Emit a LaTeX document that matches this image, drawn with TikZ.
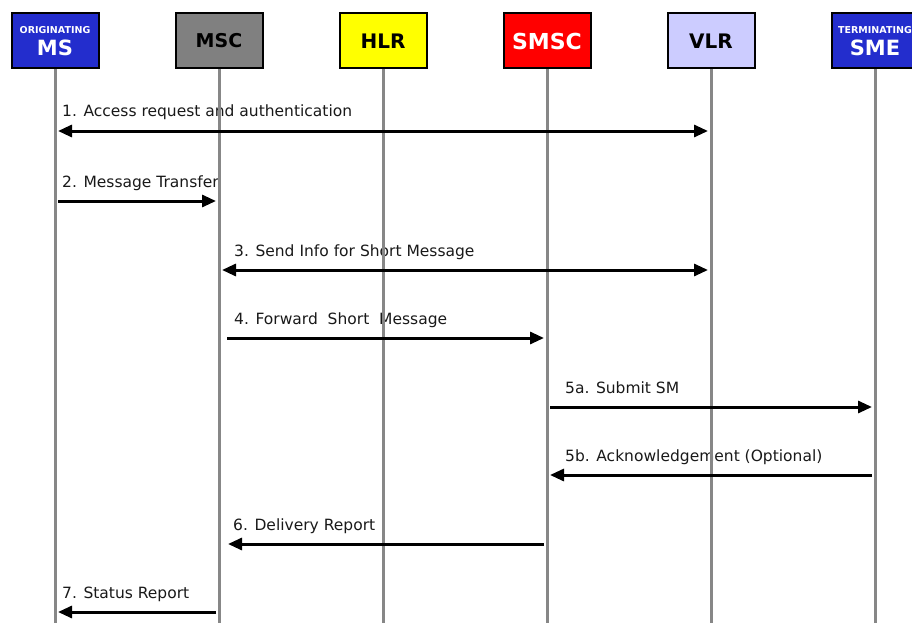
\documentclass[tikz,border=0pt]{standalone}
\usepackage{fontspec}
\setmainfont{DejaVu Sans}
\usetikzlibrary{arrows.meta,positioning}
\definecolor{msblue}{RGB}{35,45,205}
\definecolor{mscgray}{RGB}{128,128,128}
\definecolor{hlryellow}{RGB}{255,255,0}
\definecolor{smscred}{RGB}{255,0,0}
\definecolor{vlrlilac}{RGB}{204,204,255}
\definecolor{lifegray}{RGB}{135,135,135}
\definecolor{lblgray}{RGB}{25,25,25}

\begin{document}
\begin{tikzpicture}[x=1pt,y=-1pt]
\tikzstyle{box}=[rectangle,draw=black,line width=2pt,node distance=164pt,
minimum width=87pt,minimum height=55pt,inner sep=0pt,
font=\bfseries\fontsize{19}{19}\selectfont]
\tikzstyle{life}=[draw=lifegray,line width=3pt]
\tikzstyle{msg}=[line width=3pt,shorten >=3pt,shorten <=3pt]
\tikzstyle{lbl}=[anchor=base west,inner sep=0pt,text=lblgray,
font=\fontsize{15.5}{18}\selectfont]
\tikzset{>={Triangle[length=14pt,width=12pt]}}

\useasboundingbox (0,0) rectangle (912,623);

\node[box,fill=msblue,text=white,align=center] at (55,41) (ms) {{\fontsize{9.5}{9}\selectfont ORIGINATING}\\[3pt]{\fontsize{21}{21}\selectfont MS}};
\node[box,fill=mscgray,right of =ms] (msc) {MSC};
\node[box,fill=hlryellow,right of =msc] (hlr) {\fontsize{20}{20}\selectfont HLR};
\node[box,fill=smscred,text=white,right of =hlr] (smsc) {\fontsize{22}{22}\selectfont SMSC};
\node[box,fill=vlrlilac,right of =smsc] (vlr) {\fontsize{20}{20}\selectfont VLR};
\node[box,fill=msblue,text=white,align=center,right of =vlr] (sme) {{\fontsize{9.5}{9}\selectfont TERMINATING}\\[3pt]{\fontsize{21}{21}\selectfont SME}};

\coordinate (bottom) at (0,623);
\foreach \y [count=\i] in {131,201,270,338,407,475,544,612}
  \coordinate (r\i) at (0,\y);

\node[lbl] (l1) at ([xshift=7pt,yshift=14pt]ms |- r1) {1. Access request and authentication};
\node[lbl] (l2) at ([xshift=7pt,yshift=14pt]ms |- r2) {2. Message Transfer};
\node[lbl] (l3) at ([xshift=15pt,yshift=14pt]msc |- r3) {3. Send Info for Short Message};
\node[lbl] (l4) at ([xshift=15pt,yshift=14pt]msc |- r4) {4. Forward\ \ Short\ \ Message};
\node[lbl] (l5a) at ([xshift=18pt,yshift=14pt]smsc |- r5) {5a. Submit SM};
\node[lbl] (l5b) at ([xshift=18pt,yshift=14pt]smsc |- r6) {5b. Acknowledgement (Optional)};
\node[lbl] (l6) at ([xshift=14pt,yshift=14pt]msc |- r7) {6. Delivery Report};
\node[lbl] (l7) at ([xshift=7pt,yshift=14pt]ms |- r8) {7. Status Report};

\foreach \n in {ms,msc,hlr,smsc,vlr,sme}
  \draw[life] (\n.south) -- (\n |- bottom);

\draw[msg,<->] (ms |- r1) -- (vlr |- r1);
\draw[msg,->] (ms |- r2) -- (msc |- r2);
\draw[msg,<->] (msc |- r3) -- (vlr |- r3);
\draw[msg,->,shorten <=8pt] (msc |- r4) -- (smsc |- r4);
\draw[msg,->] (smsc |- r5) -- (sme |- r5);
\draw[msg,->] (sme |- r6) -- (smsc |- r6);
\draw[msg,->,shorten >=9pt] (smsc |- r7) -- (msc |- r7);
\draw[msg,->] (msc |- r8) -- (ms |- r8);

\end{tikzpicture}
\end{document}
